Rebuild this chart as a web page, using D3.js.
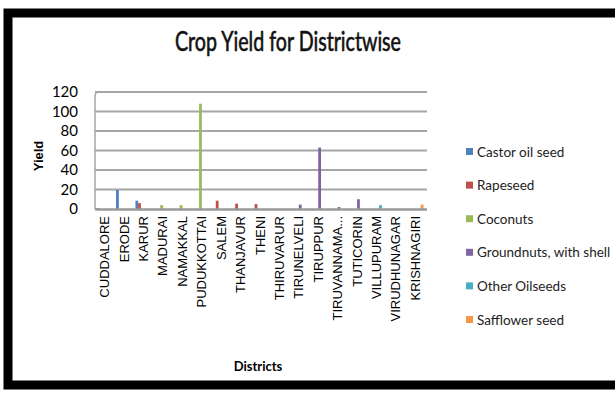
<!DOCTYPE html>
<html>
<head>
<meta charset="utf-8">
<script src="https://cdn.jsdelivr.net/npm/d3@7"></script>
<style>
  body { margin: 0; background: #fff; }
  svg { display: block; }
</style>
</head>
<body>
<svg id="chart" width="615" height="393"></svg>
<script>
// districts on the x axis
const districts = ["CUDDALORE", "ERODE", "KARUR", "MADURAI", "NAMAKKAL", "PUDUKKOTTAI",
  "SALEM", "THANJAVUR", "THENI", "THIRUVARUR", "TIRUNELVELI", "TIRUPPUR",
  "TIRUVANNAMA...", "TUTICORIN", "VILLUPURAM", "VIRUDHUNAGAR", "KRISHNAGIRI"];

const crops = ["Castor oil seed", "Rapeseed", "Coconuts", "Groundnuts, with shell", "Other Oilseeds", "Safflower seed"];
const colors = ["#4F81BD", "#C0504D", "#9BBB59", "#8064A2", "#4BACC6", "#F79646"];

// yield values per crop, one per district
const castor     = [1, 19.5, 8.5, 0, 0, 0, 0, 0, 0, 0, 0, 0, 0, 0, 0, 0, 0];
const rapeseed   = [0, 0, 6, 0, 0, 0, 8.5, 5.5, 5, 0, 0, 0, 0, 0, 0, 0, 0];
const coconuts   = [0, 0, 0, 4, 4, 108, 0, 0, 0, 0, 0, 0, 0, 0, 0, 0, 0];
const groundnuts = [0, 0, 0, 0, 0, 0, 0, 0, 0, 0, 4.5, 63, 2, 10, 0, 0, 0];
const other      = [0, 0, 0, 0, 0, 0, 0, 0, 0, 0, 0, 0, 0, 0, 4, 0, 0];
const safflower  = [0, 0, 0, 0, 0, 0, 0, 0, 0, 0, 0, 0, 0, 0, 0, 0, 4.5];
const seriesValues = [castor, rapeseed, coconuts, groundnuts, other, safflower];

const yTicks = [0, 20, 40, 60, 80, 100, 120];

const svg = d3.select("#chart");

// black frame
svg.append("rect").attr("x", 8).attr("y", 13).attr("width", 620).attr("height", 372)
  .attr("fill", "#fff").attr("stroke", "#000").attr("stroke-width", 9);

svg.append("text")
  .attr("x", 288).attr("y", 51)
  .attr("text-anchor", "middle")
  .attr("textLength", 226).attr("lengthAdjust", "spacingAndGlyphs")
  .style("font-family", "Lato, 'Open Sans', sans-serif")
  .style("font-size", "26px")
  .attr("fill", "#111").attr("stroke", "#111").attr("stroke-width", 0.6)
  .text("Crop Yield for Districtwise");

let plotL = 95, plotR = 425, plotT = 92, plotB = 209;

let x = d3.scaleBand().domain(districts).range([plotL, plotR]);
let y = d3.scaleLinear().domain([0, 120]).range([plotB, plotT]);
let xs = d3.scaleBand().domain(d3.range(crops.length))
  .range([0, x.bandwidth()]).paddingOuter(0.6);

// grid lines
svg.append("g").selectAll("line")
  .data(yTicks.filter(t => t > 0))
  .enter().append("line")
  .attr("x1", plotL).attr("x2", plotR + 2)
  .attr("y1", d => y(d)).attr("y2", d => y(d))
  .attr("stroke", "#a6a6a6").attr("stroke-width", 2);

// y axis line with rounded top
svg.append("path")
  .attr("d", `M${plotL},${plotB} L${plotL},${plotT + 4} Q${plotL},${plotT} ${plotL + 4},${plotT}`)
  .attr("fill", "none").attr("stroke", "#a6a6a6").attr("stroke-width", 1.5);

// bars
seriesValues.forEach((vals, si) => {
  svg.append("g").selectAll("rect")
    .data(vals)
    .enter().append("rect")
    .attr("x", (d, i) => x(districts[i]) + xs(si))
    .attr("width", 2.8)
    .attr("y", d => y(d))
    .attr("height", d => plotB - y(d))
    .attr("fill", colors[si]);
});

// x axis line
svg.append("line")
  .attr("x1", plotL).attr("x2", plotR + 2)
  .attr("y1", plotB + 0.5).attr("y2", plotB + 0.5)
  .attr("stroke", "#999").attr("stroke-width", 2.5);

// y tick labels
svg.append("g").selectAll("text")
  .data(yTicks)
  .enter().append("text")
  .attr("x", 78).attr("y", d => y(d) + 5)
  .attr("text-anchor", "end")
  .style("font-family", "Lato, sans-serif")
  .style("font-size", "15px")
  .text(d => d);

svg.append("text")
  .attr("transform", "translate(43,156) rotate(-90)")
  .attr("text-anchor", "middle")
  .style("font-family", "'Liberation Sans', Arial, sans-serif")
  .style("font-weight", "bold")
  .style("font-size", "13px")
  .text("Yield");

// district labels
svg.append("g").selectAll("text")
  .data(districts)
  .enter().append("text")
  .attr("transform", d => "translate(" + (x(d) + x.bandwidth() / 2 + 4.5) + ",216) rotate(-90)")
  .attr("text-anchor", "end")
  .style("font-family", "'Liberation Sans', Arial, sans-serif")
  .style("font-size", "13px")
  .text(d => d);

svg.append("text")
  .attr("x", 258).attr("y", 371)
  .attr("text-anchor", "middle")
  .style("font-family", "Lato, sans-serif")
  .style("font-weight", "bold")
  .style("font-size", "13px")
  .text("Districts");

// legend
let legend = svg.append("g").selectAll("g")
  .data(crops)
  .enter().append("g")
  .attr("transform", (d, i) => "translate(466," + (152 + i * 33.6) + ")");
legend.append("rect")
  .attr("x", 0).attr("y", -4).attr("width", 7).attr("height", 7)
  .attr("fill", (d, i) => colors[i]);
legend.append("text")
  .attr("x", 11).attr("y", 4.5)
  .style("font-family", "Lato, sans-serif")
  .style("font-size", "13.5px")
  .attr("fill", "#222")
  .text(d => d);
</script>
</body>
</html>
